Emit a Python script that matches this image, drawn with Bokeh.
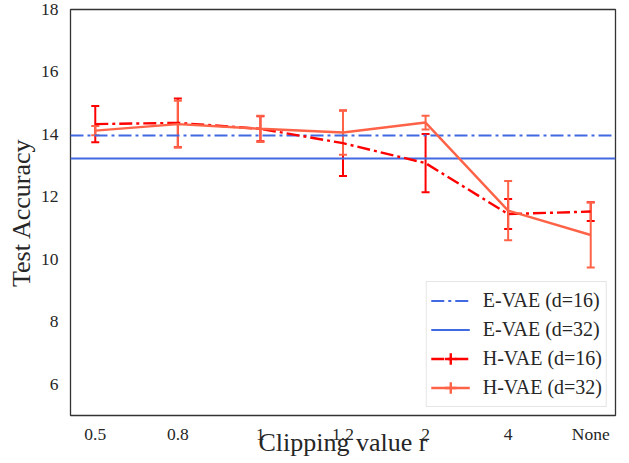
import math
from bokeh.plotting import figure
from bokeh.models import (ColumnDataSource, Range1d, FixedTicker, Whisker, TeeHead,
                          Legend, LegendItem)
from bokeh.embed import file_html
from bokeh.resources import INLINE

# ---------------- data ----------------
categories = ["0.5", "0.8", "1", "1.2", "2", "4", "None"]
hvae16_mean = [14.33, 14.37, 14.18, 13.72, 13.08, 11.45, 11.53]
hvae16_err = [0.58, 0.78, 0.40, 1.05, 0.93, 0.48, 0.30]
hvae32_mean = [14.12, 14.33, 14.18, 14.06, 14.38, 11.56, 10.78]
hvae32_err = [0.15, 0.75, 0.42, 0.71, 0.22, 0.95, 1.04]
evae16_value = 13.97
evae32_value = 13.22
y_ticks = [6, 8, 10, 12, 14, 16, 18]

FONT = "Liberation Serif"
TXT = "#262626"
BLUE = "#4169E1"
RED = "#FF0000"
TOMATO = "#FF6347"

xs = list(range(len(categories)))

def make_src(mean, err):
    return ColumnDataSource(dict(
        x=xs, y=mean,
        upper=[m + e for m, e in zip(mean, err)],
        lower=[m - e for m, e in zip(mean, err)],
    ))

src16 = make_src(hvae16_mean, hvae16_err)
src32 = make_src(hvae32_mean, hvae32_err)

p = figure(width=629, height=463, output_backend="svg", toolbar_location=None,
           x_range=Range1d(-0.3, len(categories) - 1 + 0.3),
           y_range=Range1d(5.0, 18.0),
           min_border_left=70, min_border_right=14, min_border_top=9, min_border_bottom=48)
# a range used only so that legend-helper markers fall outside the frame
p.extra_y_ranges = {"legend_only": Range1d(1000, 1001)}

p.background_fill_color = "white"
p.border_fill_color = "white"
p.outline_line_color = "#333333"
p.outline_line_width = 1.3
p.grid.grid_line_color = None

# axes
p.xaxis.ticker = FixedTicker(ticks=xs)
p.xaxis.major_label_overrides = {i: c for i, c in enumerate(categories)}
p.yaxis.ticker = FixedTicker(ticks=y_ticks)
for ax in (p.xaxis, p.yaxis):
    ax.axis_line_color = None
    ax.major_tick_line_color = None
    ax.minor_tick_line_color = None
    ax.major_tick_out = 0
    ax.major_tick_in = 0
    ax.major_label_text_font = FONT
    ax.major_label_text_font_size = "17.5px"
    ax.major_label_text_color = TXT
    ax.axis_label_text_font = FONT
    ax.axis_label_text_font_size = "26px"
    ax.axis_label_text_font_style = "normal"
    ax.axis_label_text_color = TXT

p.xaxis.axis_label = "Clipping value r"
p.yaxis.axis_label = "Test Accuracy"
p.xaxis.major_label_standoff = 8
p.yaxis.major_label_standoff = 12
p.xaxis.axis_label_standoff = -19
p.yaxis.axis_label_standoff = 2

# E-VAE horizontal references
r_e16 = p.hspan(y=[evae16_value], line_color=BLUE, line_width=2.2, line_dash="13 4 3 4")
r_e32 = p.hspan(y=[evae32_value], line_color=BLUE, line_width=2.2)

# H-VAE lines
r_h16 = p.line("x", "y", source=src16, line_color=RED, line_width=2.4, line_dash="13 4 3 4")
r_h32 = p.line("x", "y", source=src32, line_color=TOMATO, line_width=2.4)

# error bars
for src, col in ((src16, RED), (src32, TOMATO)):
    w = Whisker(base="x", upper="upper", lower="lower", source=src, dimension="height",
                line_color=col, line_width=2,
                upper_head=TeeHead(size=8, line_color=col, line_width=2),
                lower_head=TeeHead(size=8, line_color=col, line_width=2))
    p.add_layout(w)

# legend-only markers (mapped outside the frame): a "+" that reads as an error bar
m16 = p.scatter("x", "y", source=src16, marker="cross", size=20,
                line_color=RED, line_width=2.4, y_range_name="legend_only")
m32 = p.scatter("x", "y", source=src32, marker="cross", size=20,
                line_color=TOMATO, line_width=2.4, y_range_name="legend_only")

legend = Legend(items=[
    LegendItem(label="E-VAE (d=16)", renderers=[r_e16]),
    LegendItem(label="E-VAE (d=32)", renderers=[r_e32]),
    LegendItem(label="H-VAE (d=16)", renderers=[r_h16, m16]),
    LegendItem(label="H-VAE (d=32)", renderers=[r_h32, m32]),
], location="bottom_right")
legend.margin = 8
legend.padding = 4
legend.spacing = -3
legend.glyph_width = 39
legend.glyph_height = 29
legend.label_height = 29
legend.label_standoff = 13
legend.label_text_font = FONT
legend.label_text_font_size = "20px"
legend.label_text_color = TXT
legend.border_line_color = "#cccccc"
legend.border_line_width = 1
legend.background_fill_color = "white"
legend.background_fill_alpha = 0.8
p.add_layout(legend)

open("out.html", "w").write(file_html(p, INLINE))
